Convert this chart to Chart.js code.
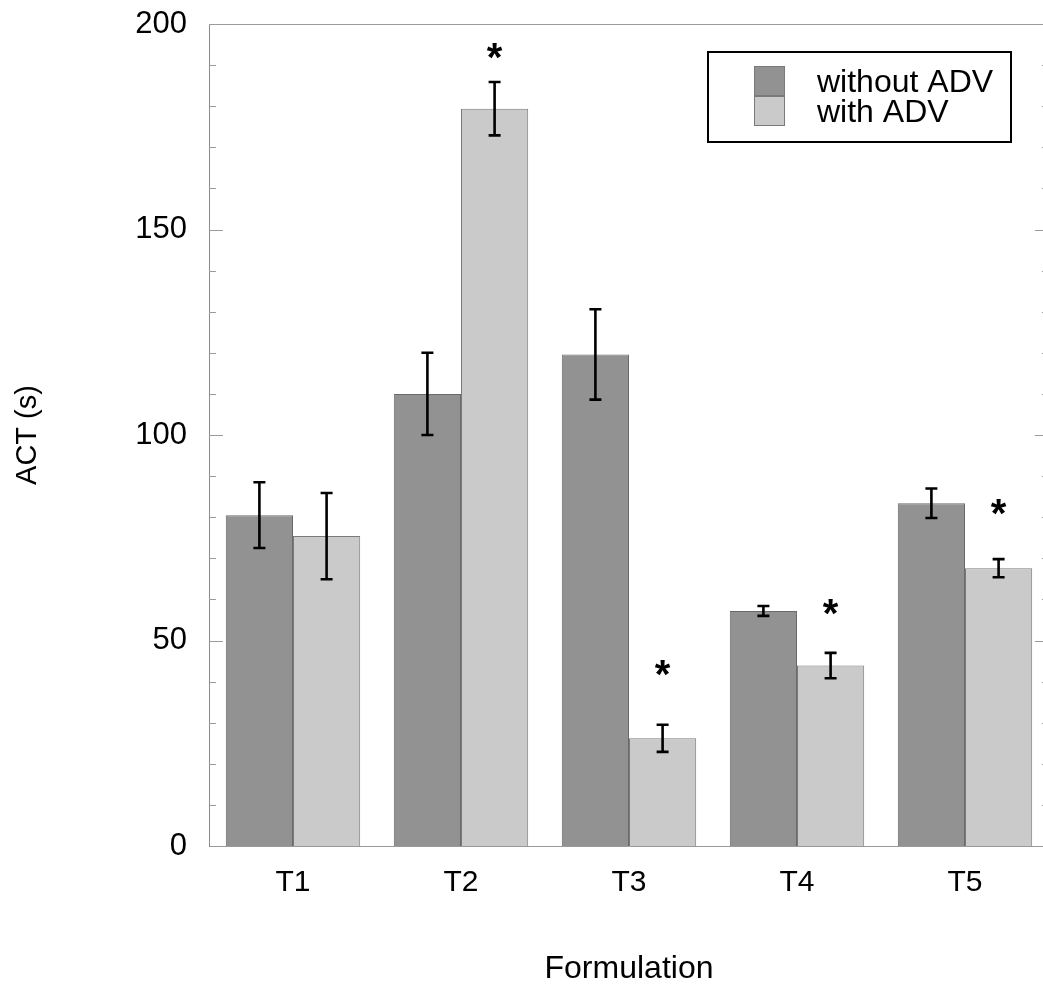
<!DOCTYPE html>
<html><head><meta charset="utf-8">
<script src="https://cdn.jsdelivr.net/npm/chart.js@4.4.1/dist/chart.umd.min.js"></script>
<style>
html,body{margin:0;padding:0;overflow:hidden;background:#fff;width:1043px;height:988px}
#wrap{position:absolute;left:0;top:0;width:1060px;height:988px}
</style>
</head><body><div id="wrap"><canvas id="c" width="1060" height="988"></canvas></div>
<script>
const categories = ['T1', 'T2', 'T3', 'T4', 'T5'];
const seriesLabels = ['without ADV', 'with ADV'];
const withoutADV = [80.5, 110.0, 119.6, 57.2, 83.4];
const withoutADVErr = [8.0, 10.0, 11.0, 1.2, 3.6];
const withADV = [75.4, 179.4, 26.2, 43.9, 67.6];
const withADVErr = [10.5, 6.5, 3.3, 3.1, 2.2];
const asteriskY = [null, 193.2, 43.1, 57.9, 82.2];
const yMajorTicks = [0, 50, 100, 150, 200];
const yMinorStep = 10;
const axisTitleX = 'Formulation';
const axisTitleY = 'ACT (s)';

const FONT = "'Liberation Sans', Arial, Helvetica, sans-serif";
const errs = [withoutADVErr, withADVErr];

const overlay = {
  id: 'overlay',
  afterDatasetsDraw(chart) {
    const ctx = chart.ctx;
    const ca = chart.chartArea;
    const ys = chart.scales.y;
    ctx.save();
    // top frame line
    ctx.strokeStyle = '#9a9a9a';
    ctx.lineWidth = 1;
    ctx.beginPath();
    ctx.moveTo(ca.left, ca.top + 0.5);
    ctx.lineTo(ca.right, ca.top + 0.5);
    ctx.stroke();
    // inward tick marks, left and right
    ys.ticks.forEach(t => {
      if (t.value === 0 || t.value === 200) return;
      const py = Math.round(ys.getPixelForValue(t.value)) + 0.5;
      const len = yMajorTicks.includes(t.value) ? 14 : 7;
      ctx.beginPath();
      ctx.moveTo(ca.left, py); ctx.lineTo(ca.left + len, py);
      ctx.moveTo(ca.right, py); ctx.lineTo(ca.right - len, py);
      ctx.stroke();
    });
    // error bars
    ctx.strokeStyle = '#000';
    ctx.lineWidth = 2.6;
    chart.data.datasets.forEach((ds, i) => {
      const meta = chart.getDatasetMeta(i);
      meta.data.forEach((el, j) => {
        const v = ds.data[j], e = errs[i][j];
        const x = el.x;
        const yt = ys.getPixelForValue(v + e);
        const yb = ys.getPixelForValue(v - e);
        ctx.beginPath();
        ctx.moveTo(x, yt); ctx.lineTo(x, yb);
        ctx.moveTo(x - 6, yt); ctx.lineTo(x + 6, yt);
        ctx.moveTo(x - 6, yb); ctx.lineTo(x + 6, yb);
        ctx.stroke();
      });
    });
    // asterisks over "with ADV"
    const m1 = chart.getDatasetMeta(1);
    const as = 40;
    ctx.fillStyle = '#000';
    ctx.font = 'bold ' + as + 'px ' + FONT;
    ctx.textAlign = 'center';
    ctx.textBaseline = 'alphabetic';
    asteriskY.forEach((v, j) => {
      if (v === null) return;
      const x = m1.data[j].x;
      const py = ys.getPixelForValue(v);
      ctx.fillText('*', x, py + 0.47 * as);
    });
    // legend
    const lx = 708, ly = 52, lw = 303, lh = 90;
    ctx.lineWidth = 2;
    ctx.strokeStyle = '#000';
    ctx.fillStyle = '#fff';
    ctx.fillRect(lx, ly, lw, lh);
    ctx.strokeRect(lx, ly, lw, lh);
    chart.data.datasets.forEach((ds, i) => {
      const sy = 66 + i * 30;
      ctx.fillStyle = ds.backgroundColor;
      ctx.fillRect(754, sy, 31, 30);
      ctx.lineWidth = 1;
      ctx.strokeStyle = '#7a7a7a';
      ctx.strokeRect(754.5, sy + 0.5, 30, 29);
      ctx.fillStyle = '#000';
      ctx.font = '32px ' + FONT;
      ctx.textAlign = 'left';
      ctx.fillText(ds.label, 817, 92 + i * 30);
    });
    ctx.restore();
  }
};

new Chart(document.getElementById('c'), {
  type: 'bar',
  data: {
    labels: categories,
    datasets: [
      { label: seriesLabels[0], data: withoutADV, backgroundColor: '#929292', borderColor: '#6a6a6a', borderWidth: 1 },
      { label: seriesLabels[1], data: withADV, backgroundColor: '#cacaca', borderColor: '#7a7a7a', borderWidth: 1 }
    ]
  },
  options: {
    responsive: false,
    devicePixelRatio: 1,
    animation: false,
    layout: { padding: { left: 0, right: 11, top: 24, bottom: 0 } },
    plugins: { legend: { display: false }, tooltip: { enabled: false } },
    datasets: { bar: { categoryPercentage: 0.8, barPercentage: 1.0 } },
    scales: {
      x: {
        grid: { display: false, drawTicks: false },
        border: { display: true, color: '#9a9a9a', width: 1 },
        ticks: { color: '#000', font: { family: FONT, size: 30 }, padding: 19 },
        title: { display: true, text: axisTitleX, color: '#000', font: { family: FONT, size: 32 }, padding: { top: 0, bottom: 0 } },
        afterFit(s) { s.height = 142; s.paddingLeft = 0; s.paddingRight = 0; }
      },
      y: {
        min: 0, max: 200,
        grid: { display: false, drawTicks: false },
        border: { display: true, color: '#8a8a8a', width: 1 },
        ticks: {
          stepSize: yMinorStep,
          autoSkip: false,
          color: '#000',
          font: { family: FONT, size: 31 },
          padding: 22,
          callback: v => yMajorTicks.includes(v) ? String(v) : ''
        },
        title: { display: true, text: axisTitleY, color: '#000', font: { family: FONT, size: 29 }, padding: { top: 11, bottom: 0 } },
        afterFit(s) { s.width = 209; s.paddingTop = 0; s.paddingBottom = 0; }
      }
    }
  },
  plugins: [overlay]
});
</script>
</body></html>
